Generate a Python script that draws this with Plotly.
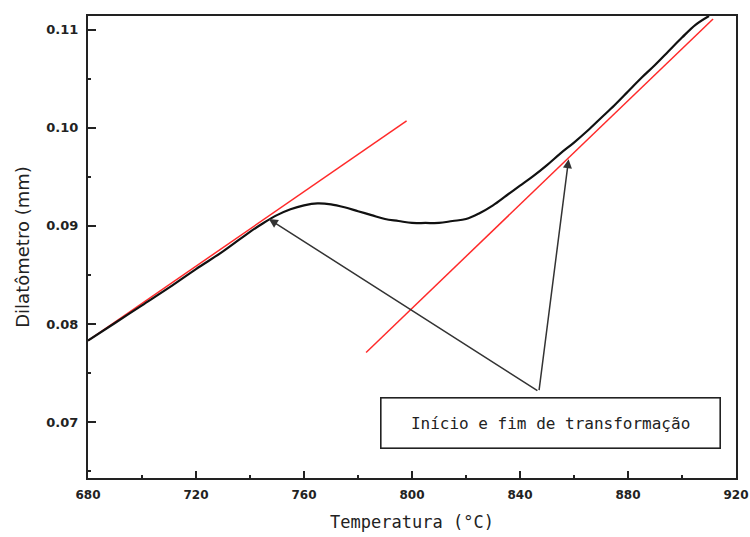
import plotly.graph_objects as go

# Measured dilatometer curve (temperature in °C, length change in mm)
temperature = [680, 690, 700, 710, 720, 730, 740, 745, 750, 755, 760, 765, 770, 775,
               780, 785, 790, 795, 800, 805, 810, 815, 820, 825, 830, 835, 840, 845,
               850, 855, 860, 865, 870, 875, 880, 885, 890, 895, 900, 905, 910]
dilatation = [0.0783, 0.0801, 0.0819, 0.0837, 0.0856, 0.0874, 0.0894, 0.0903, 0.0911,
              0.0917, 0.0921, 0.0923, 0.0922, 0.0919, 0.0915, 0.0911, 0.0907, 0.0905,
              0.0903, 0.0903, 0.0903, 0.0905, 0.0907, 0.0913, 0.0921, 0.0931, 0.0941,
              0.0951, 0.0962, 0.0974, 0.0985, 0.0997, 0.1010, 0.1023, 0.1037, 0.1051,
              0.1064, 0.1078, 0.1092, 0.1105, 0.1114]

# Tangent lines (start and end points)
tangent1_x = [680, 798]
tangent1_y = [0.0783, 0.1007]
tangent2_x = [783, 911.5]
tangent2_y = [0.0771, 0.1111]

# Arrow targets (start / end of transformation) and common arrow tail
arrow_tip_x = [747, 858]
arrow_tip_y = [0.0907, 0.0968]
arrow_tail = (847, 0.0731)
label_pos = (851.2, 0.06995)
label_text = "Início e fim de transformação"

x_ticks = [680, 720, 760, 800, 840, 880, 920]
y_ticks = [0.07, 0.08, 0.09, 0.10, 0.11]
y_tick_text = ["0.07", "0.08", "0.09", "0.10", "0.11"]

fig = go.Figure()
fig.add_trace(go.Scatter(x=tangent1_x, y=tangent1_y, mode="lines",
                         line=dict(color="#ff2a2a", width=1.5), showlegend=False))
fig.add_trace(go.Scatter(x=tangent2_x, y=tangent2_y, mode="lines",
                         line=dict(color="#ff2a2a", width=1.5), showlegend=False))
fig.add_trace(go.Scatter(x=temperature, y=dilatation, mode="lines",
                         line=dict(color="#111111", width=2.2, shape="spline"),
                         showlegend=False))

for tx, ty in zip(arrow_tip_x, arrow_tip_y):
    fig.add_annotation(x=tx, y=ty, ax=arrow_tail[0], ay=arrow_tail[1],
                       xref="x", yref="y", axref="x", ayref="y",
                       text="", showarrow=True, arrowhead=2, arrowsize=1.2,
                       arrowwidth=1.5, arrowcolor="#333333")

fig.add_annotation(x=label_pos[0], y=label_pos[1], xref="x", yref="y",
                   text=label_text, showarrow=False,
                   font=dict(family="DejaVu Sans Mono", size=16, color="#222222"),
                   width=336, height=47, bgcolor="white",
                   bordercolor="#222222", borderwidth=1.6, borderpad=1)

y_tick_font = dict(family="DejaVu Sans", size=13, color="#222222", weight="bold")
x_tick_font = dict(family="DejaVu Sans", size=12, color="#222222", weight="bold")

fig.update_layout(
    width=750, height=537,
    margin=dict(l=88, r=14, t=16, b=59, autoexpand=False),
    paper_bgcolor="white", plot_bgcolor="white",
    showlegend=False,
    xaxis=dict(range=[680, 920], tickvals=x_ticks, ticks="inside", ticklen=7,
               tickwidth=1.5, tickcolor="#222222", showline=True, linewidth=2,
               linecolor="#222222", mirror=True, showgrid=False, zeroline=False,
               tickfont=x_tick_font, ticklabelstandoff=5, automargin=False,
               ticklabeloverflow="allow",
               minor=dict(dtick=20, tick0=680, ticks="inside", ticklen=3,
                          tickwidth=1.5, tickcolor="#222222", showgrid=False),
               title=dict(text="Temperatura (°C)", standoff=15,
                          font=dict(family="DejaVu Sans Mono", size=17, color="#222222"))),
    yaxis=dict(range=[0.0643, 0.1114], tickvals=y_ticks, ticktext=y_tick_text,
               ticks="inside", ticklen=8, tickwidth=1.5, tickcolor="#222222",
               showline=True, linewidth=2, linecolor="#222222", mirror=True,
               showgrid=False, zeroline=False, tickfont=y_tick_font,
               ticklabelstandoff=5, automargin=False, ticklabeloverflow="allow",
               minor=dict(dtick=0.005, tick0=0.065, ticks="inside", ticklen=3,
                          tickwidth=1.5, tickcolor="#222222", showgrid=False),
               title=dict(text="Dilatômetro (mm)", standoff=12,
                          font=dict(family="DejaVu Sans", size=18, color="#222222"))),
)

fig.write_html("out.html")
